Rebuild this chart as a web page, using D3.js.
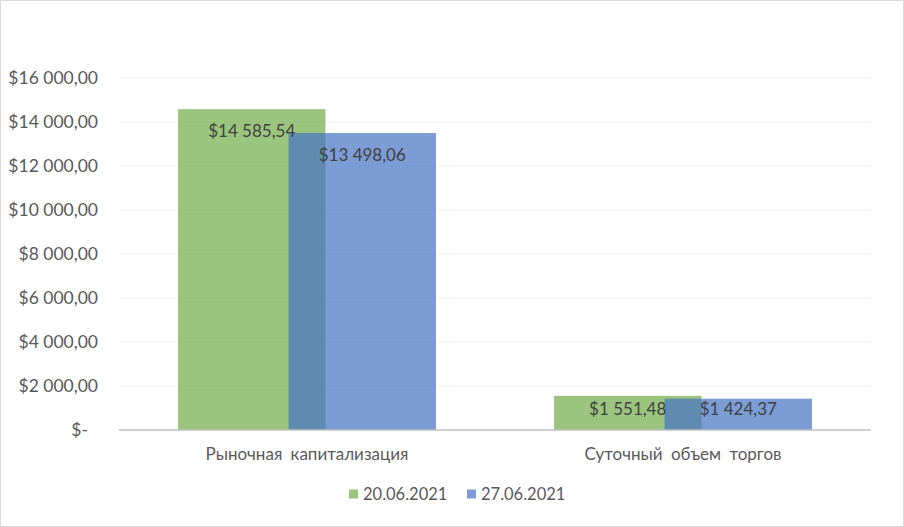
<!DOCTYPE html>
<html>
<head>
<meta charset="utf-8">
<script src="https://cdn.jsdelivr.net/npm/d3@7"></script>
<style>
  html, body { margin: 0; padding: 0; background: #fff; }
  svg { display: block; font-family: "Lato", "Noto Sans", sans-serif; }
</style>
</head>
<body>
<svg id="chart" width="904" height="527"></svg>
<script>
// данные графика
const categories = ["Рыночная капитализация", "Суточный объем торгов"];
const seriesNames = ["20.06.2021", "27.06.2021"];
const seriesValues = [
  [14585.54, 1551.48],
  [13498.06, 1424.37]
];
const yTicks = [0, 2000, 4000, 6000, 8000, 10000, 12000, 14000, 16000];
const colors = ["#70AD47", "#4472C4"];

const W = 904, H = 527;
const margin = { left: 119, right: 33, top: 78, bottom: 97 };
const svg = d3.select("#chart");

// рамка
svg.append("rect")
  .attr("x", 0.5).attr("y", 0.5)
  .attr("width", W - 1).attr("height", H - 1)
  .attr("fill", "#fff").attr("stroke", "#d9d9d9");

const x0 = d3.scaleBand()
  .domain(categories)
  .range([margin.left, W - margin.right]);

const y = d3.scaleLinear()
  .domain([0, 16000])
  .range([H - margin.bottom, margin.top]);

function fmtMoney(v) {
  if (v === 0) return "$-";
  const parts = v.toFixed(2).split(".");
  const intPart = parts[0].replace(/\B(?=(\d{3})+(?!\d))/g, " ");
  return "$" + intPart + "," + parts[1];
}

// сетка
svg.append("g")
  .selectAll("line")
  .data(yTicks.filter(d => d > 0))
  .join("line")
  .attr("x1", margin.left).attr("x2", W - margin.right)
  .attr("y1", d => y(d)).attr("y2", d => y(d))
  .attr("stroke", "#efefef").attr("stroke-width", 1);

// подписи оси Y
svg.append("g")
  .selectAll("text")
  .data(yTicks)
  .join("text")
  .attr("x", d => d === 0 ? 88 : 98)
  .attr("y", d => y(d))
  .attr("dy", "0.35em")
  .attr("text-anchor", "end")
  .attr("fill", "#595959")
  .attr("font-size", 17.5)
  .text(fmtMoney);

// столбцы: ширина ~39% категории, перекрытие 25%
const bw = x0.bandwidth() * 0.392;
const step = bw * 0.75;

seriesValues.forEach((vals, si) => {
  const g = svg.append("g");
  g.selectAll("rect")
    .data(vals)
    .join("rect")
    .attr("x", (d, i) => x0(categories[i]) + x0.bandwidth() / 2 - (bw + step) / 2 + si * step)
    .attr("y", d => y(d))
    .attr("width", bw)
    .attr("height", d => y(0) - y(d))
    .attr("fill", colors[si])
    .attr("fill-opacity", 0.7);
});

// подписи значений
seriesValues.forEach((vals, si) => {
  svg.append("g")
    .selectAll("text")
    .data(vals)
    .join("text")
    .attr("x", (d, i) => x0(categories[i]) + x0.bandwidth() / 2 - (bw + step) / 2 + si * step + bw / 2)
    .attr("y", d => Math.min(y(d) + 22, y(0) - 21))
    .attr("dy", "0.35em")
    .attr("text-anchor", "middle")
    .attr("fill", "#404040")
    .attr("font-size", 17)
    .text(fmtMoney);
});

// ось X
svg.append("line")
  .attr("x1", margin.left).attr("x2", W - margin.right)
  .attr("y1", y(0)).attr("y2", y(0))
  .attr("stroke", "#bfbfbf").attr("stroke-width", 1.5);

svg.append("g")
  .selectAll("text")
  .data(categories)
  .join("text")
  .attr("x", d => x0(d) + x0.bandwidth() / 2)
  .attr("y", 454)
  .attr("dy", "0.35em")
  .attr("text-anchor", "middle")
  .attr("fill", "#595959")
  .attr("font-size", 17)
  .attr("word-spacing", 4)
  .text(d => d);

// легенда
const legendX = [349, 467];
const legend = svg.append("g")
  .selectAll("g")
  .data(seriesNames)
  .join("g")
  .attr("transform", (d, i) => `translate(${legendX[i]},494)`);
legend.append("rect")
  .attr("x", 0).attr("y", -4.5)
  .attr("width", 9).attr("height", 9)
  .attr("fill", (d, i) => colors[i])
  .attr("fill-opacity", 0.7);
legend.append("text")
  .attr("x", 14).attr("y", 0)
  .attr("dy", "0.35em")
  .attr("fill", "#595959")
  .attr("font-size", 16.5)
  .text(d => d);
</script>
</body>
</html>
